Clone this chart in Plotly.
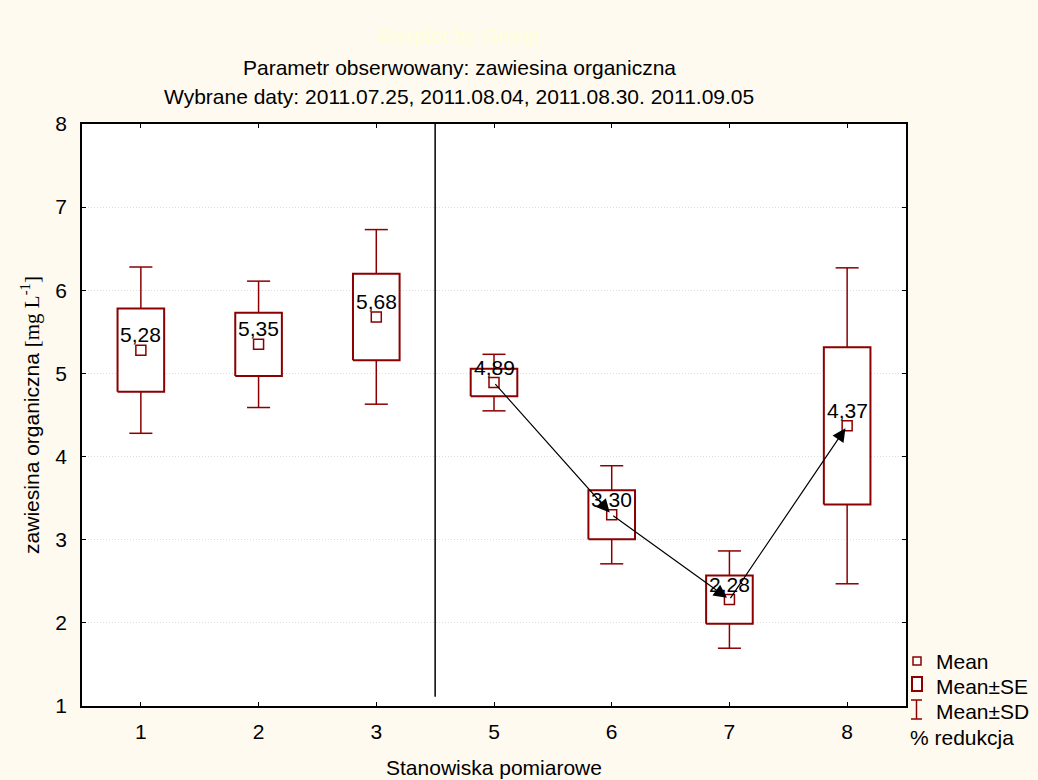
import plotly.graph_objects as go

stations = ["1", "2", "3", "5", "6", "7", "8"]
means = [5.28, 5.35, 5.68, 4.89, 3.30, 2.28, 4.37]
se = [0.50, 0.38, 0.52, 0.165, 0.295, 0.29, 0.945]
sd = [1.00, 0.76, 1.05, 0.34, 0.59, 0.585, 1.90]
labels = ["5,28", "5,35", "5,68", "4,89", "3,30", "2,28", "4,37"]
arrow_pairs = [(3, 4), (4, 5), (5, 6)]

DARK = "#8B0000"
FONT = "Arial, Liberation Sans, sans-serif"
FS = 21
W, H = 1038, 780
L, R, T, B = 82, 906, 124, 706


def xp(px):
    return (px - L) / (R - L)


def yp(py):
    return (B - py) / (B - T)


xs = list(range(len(stations)))
BOX_HW = 0.198
CAP_HW = 0.098

fig = go.Figure()

# whiskers
wx, wy = [], []
for i, m, s in zip(xs, means, sd):
    wx += [i, i, None, i - CAP_HW, i + CAP_HW, None, i - CAP_HW, i + CAP_HW, None]
    wy += [m - s, m + s, None, m + s, m + s, None, m - s, m - s, None]
fig.add_trace(go.Scatter(x=wx, y=wy, mode="lines", line=dict(color=DARK, width=1.5),
                         hoverinfo="skip", showlegend=False))

# SE boxes
for i, m, s in zip(xs, means, se):
    fig.add_trace(go.Scatter(
        x=[i - BOX_HW, i + BOX_HW, i + BOX_HW, i - BOX_HW, i - BOX_HW],
        y=[m - s, m - s, m + s, m + s, m - s],
        mode="lines", fill="toself", fillcolor="white",
        line=dict(color=DARK, width=2), hoverinfo="skip", showlegend=False))

# separator line
fig.add_trace(go.Scatter(x=[2.5, 2.5], y=[1.11, 8], mode="lines",
                         line=dict(color="black", width=1.5), hoverinfo="skip", showlegend=False))

# means
fig.add_trace(go.Scatter(x=xs, y=means, mode="markers",
                         marker=dict(symbol="square", size=10, color="white",
                                     line=dict(color=DARK, width=1.5)),
                         showlegend=False))

annotations = []
for i, m, t in zip(xs, means, labels):
    annotations.append(dict(x=i, y=m, xref="x", yref="y", text=t, showarrow=False,
                            yanchor="bottom", yshift=2,
                            font=dict(family=FONT, size=FS, color="black")))

for a, b in arrow_pairs:
    annotations.append(dict(x=xs[b], y=means[b], ax=xs[a], ay=means[a],
                            xref="x", yref="y", axref="x", ayref="y",
                            text="", showarrow=True, arrowhead=2, arrowsize=2.2,
                            arrowwidth=1.2, arrowcolor="black", standoff=3))

# titles
for txt, py, col in [("Boxplot by Group", 35, "#FFFFD8"),
                     ("Parametr obserwowany: zawiesina organiczna", 68, "black"),
                     ("Wybrane daty: 2011.07.25, 2011.08.04, 2011.08.30. 2011.09.05", 97, "black")]:
    annotations.append(dict(x=xp(459), y=yp(py), xref="paper", yref="paper", text=txt,
                            xanchor="center", yanchor="middle", showarrow=False,
                            font=dict(family=FONT, size=FS, color=col)))

# legend
leg_items = [("Mean", 661, 934), ("Mean\u00b1SE", 686, 934), ("Mean\u00b1SD", 711, 934),
             ("% redukcja", 737, 908)]
for txt, py, px in leg_items:
    annotations.append(dict(x=xp(px), y=yp(py), xref="paper", yref="paper", text=txt,
                            xanchor="left", yanchor="middle", showarrow=False,
                            font=dict(family=FONT, size=FS, color="black")))

shapes = [
    dict(type="rect", xref="paper", yref="paper", x0=xp(913), x1=xp(921), y0=yp(665), y1=yp(657),
         line=dict(color=DARK, width=1.5), fillcolor="white"),
    dict(type="rect", xref="paper", yref="paper", x0=xp(912), x1=xp(922), y0=yp(691), y1=yp(677),
         line=dict(color=DARK, width=2), fillcolor="white"),
    dict(type="line", xref="paper", yref="paper", x0=xp(916.5), x1=xp(916.5), y0=yp(719), y1=yp(700),
         line=dict(color=DARK, width=1.5)),
    dict(type="line", xref="paper", yref="paper", x0=xp(911), x1=xp(922), y0=yp(700), y1=yp(700),
         line=dict(color=DARK, width=1.5)),
    dict(type="line", xref="paper", yref="paper", x0=xp(911), x1=xp(922), y0=yp(719), y1=yp(719),
         line=dict(color=DARK, width=1.5)),
]

fig.update_layout(
    width=W, height=H,
    margin=dict(l=L, r=W - R, t=T, b=H - B, pad=0, autoexpand=False),
    paper_bgcolor="#FFFAF0", plot_bgcolor="white",
    showlegend=False,
    annotations=annotations, shapes=shapes,
    font=dict(family=FONT, size=FS, color="black"),
    xaxis=dict(range=[-0.5, 6.5], tickmode="array", tickvals=xs, ticktext=stations,
               automargin=False,
               showgrid=False, zeroline=False, showline=True, linecolor="black", linewidth=1.5,
               mirror="ticks", ticks="inside", ticklen=4, tickcolor="black",
               ticklabelstandoff=6,
               tickfont=dict(family=FONT, size=FS),
               title=dict(text="Stanowiska pomiarowe", font=dict(family=FONT, size=FS), standoff=18)),
    yaxis=dict(range=[1, 8], tickmode="array", tickvals=[1, 2, 3, 4, 5, 6, 7, 8],
               automargin=False,
               showgrid=True, gridcolor="#DCDCDC", griddash="1px,2px", gridwidth=1,
               zeroline=False, showline=True, linecolor="black", linewidth=1.5,
               mirror="ticks", ticks="inside", ticklen=4, tickcolor="black",
               ticklabelstandoff=9,
               tickfont=dict(family=FONT, size=FS),
               title=dict(text="zawiesina organiczna <span style='font-family:Liberation Serif, Times New Roman, serif'>[mg L<sup>-1</sup>]</span>",
                          font=dict(family=FONT, size=FS), standoff=10)),
)

fig.write_html("out.html")
